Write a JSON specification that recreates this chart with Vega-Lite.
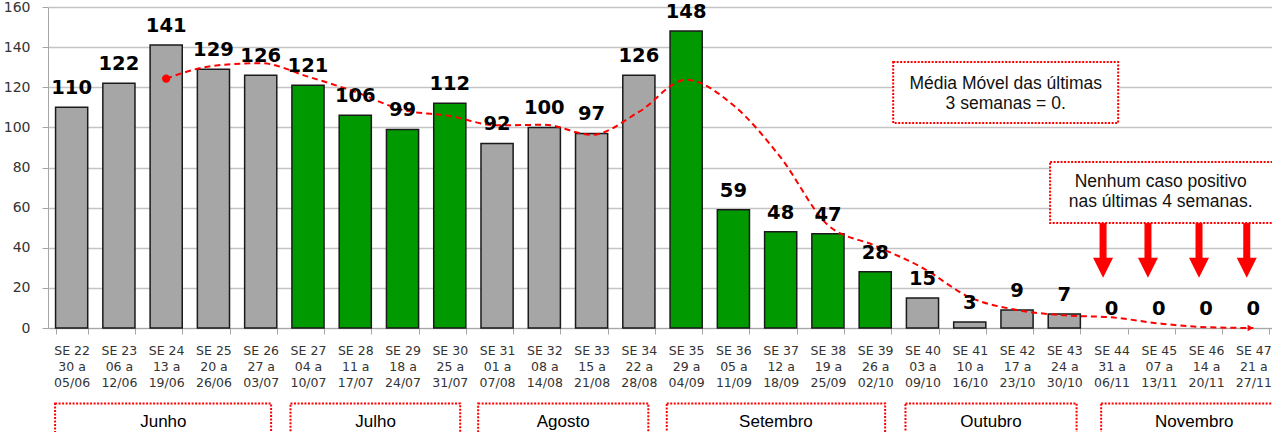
{
  "$schema": "https://vega.github.io/schema/vega-lite/v6.json",
  "width": 1224,
  "height": 321,
  "autosize": {"type": "none"},
  "padding": {"left": 48, "top": 7, "right": 0, "bottom": 104},
  "background": "white",
  "config": {"view": {"stroke": null}, "font": "DejaVu Sans"},
  "datasets": {
    "weeks": [
      {"se": "SE 22|30 a|05/06", "v": 110, "g": "cinza", "ma": null},
      {"se": "SE 23|06 a|12/06", "v": 122, "g": "cinza", "ma": null},
      {"se": "SE 24|13 a|19/06", "v": 141, "g": "cinza", "ma": 124.3},
      {"se": "SE 25|20 a|26/06", "v": 129, "g": "cinza", "ma": 130.7},
      {"se": "SE 26|27 a|03/07", "v": 126, "g": "cinza", "ma": 132},
      {"se": "SE 27|04 a|10/07", "v": 121, "g": "verde", "ma": 125.3},
      {"se": "SE 28|11 a|17/07", "v": 106, "g": "verde", "ma": 117.7},
      {"se": "SE 29|18 a|24/07", "v": 99, "g": "verde", "ma": 108.7},
      {"se": "SE 30|25 a|31/07", "v": 112, "g": "verde", "ma": 105.7},
      {"se": "SE 31|01 a|07/08", "v": 92, "g": "cinza", "ma": 101},
      {"se": "SE 32|08 a|14/08", "v": 100, "g": "cinza", "ma": 101.3},
      {"se": "SE 33|15 a|21/08", "v": 97, "g": "cinza", "ma": 96.3},
      {"se": "SE 34|22 a|28/08", "v": 126, "g": "cinza", "ma": 107.7},
      {"se": "SE 35|29 a|04/09", "v": 148, "g": "verde", "ma": 123.7},
      {"se": "SE 36|05 a|11/09", "v": 59, "g": "verde", "ma": 111},
      {"se": "SE 37|12 a|18/09", "v": 48, "g": "verde", "ma": 85},
      {"se": "SE 38|19 a|25/09", "v": 47, "g": "verde", "ma": 51.3},
      {"se": "SE 39|26 a|02/10", "v": 28, "g": "verde", "ma": 41},
      {"se": "SE 40|03 a|09/10", "v": 15, "g": "cinza", "ma": 30},
      {"se": "SE 41|10 a|16/10", "v": 3, "g": "cinza", "ma": 15.3},
      {"se": "SE 42|17 a|23/10", "v": 9, "g": "cinza", "ma": 9},
      {"se": "SE 43|24 a|30/10", "v": 7, "g": "cinza", "ma": 6.3},
      {"se": "SE 44|31 a|06/11", "v": 0, "g": "cinza", "ma": 5.3},
      {"se": "SE 45|07 a|13/11", "v": 0, "g": "cinza", "ma": 2.3},
      {"se": "SE 46|14 a|20/11", "v": 0, "g": "cinza", "ma": 0.4},
      {"se": "SE 47|21 a|27/11", "v": 0, "g": "cinza", "ma": 0}
    ],
    "months": [
      {"m": "Junho", "x1": 0.15, "x2": 4.72, "xm": 2.44},
      {"m": "Julho", "x1": 5.13, "x2": 8.72, "xm": 6.93},
      {"m": "Agosto", "x1": 9.1, "x2": 12.7, "xm": 10.9},
      {"m": "Setembro", "x1": 13.09, "x2": 17.71, "xm": 15.4},
      {"m": "Outubro", "x1": 18.14, "x2": 21.76, "xm": 19.95},
      {"m": "Novembro", "x1": 22.28, "x2": 26.6, "xm": 24.25}
    ],
    "boxes": [
      {"x1": 17.88, "x2": 22.64, "y1": 132.6, "y2": 102.2},
      {"x1": 21.2, "x2": 26.6, "y1": 82.75, "y2": 52.3}
    ],
    "notes": [
      {"x": 20.26, "y": 119.1, "t": "Média Móvel das últimas"},
      {"x": 20.26, "y": 109.2, "t": "3 semanas = 0."},
      {"x": 23.54, "y": 70.3, "t": "Nenhum caso positivo"},
      {"x": 23.54, "y": 60.3, "t": "nas últimas 4 semanas."}
    ],
    "arrows": [
      {"x": 22.32}, {"x": 23.27}, {"x": 24.35}, {"x": 25.36}
    ]
  },
  "resolve": {"scale": {"x": "independent"}},
  "layer": [
    {
      "data": {"name": "weeks"},
      "encoding": {
        "x": {
          "field": "se", "type": "nominal", "sort": null,
          "scale": {"type": "band", "range": [0, 1229], "paddingInner": 0.32, "paddingOuter": 0.16},
          "axis": {
            "title": null, "labelAngle": 0, "labelExpr": "split(datum.label, '|')",
            "labelFontSize": 12.5, "labelColor": "#333333", "labelLineHeight": 16,
            "labelPadding": 10, "tickBand": "extent", "tickSize": 6, "tickColor": "#A6A6A6",
            "domainColor": "#A6A6A6", "labelFont": "DejaVu Sans", "grid": false
          }
        }
      },
      "layer": [
        {
          "transform": [{"filter": "datum.v > 0"}],
          "mark": {"type": "bar", "stroke": "#1a1a1a", "strokeWidth": 1.5},
          "encoding": {
            "y": {
              "field": "v", "type": "quantitative",
              "scale": {"domain": [0, 160], "nice": false},
              "axis": {
                "title": null, "values": [0, 20, 40, 60, 80, 100, 120, 140, 160],
                "labelFontSize": 14, "labelColor": "#333333", "labelPadding": 12,
                "tickSize": 6, "tickColor": "#A6A6A6", "domainColor": "#A6A6A6",
                "gridColor": "#C4C4C4", "gridWidth": 1.3, "labelFont": "DejaVu Sans"
              }
            },
            "color": {
              "field": "g", "type": "nominal", "legend": null,
              "scale": {"domain": ["cinza", "verde"], "range": ["#A6A6A6", "#009900"]}
            }
          }
        },
        {
          "transform": [{"filter": "datum.ma != null"}],
          "mark": {"type": "line", "color": "#FF0000", "strokeWidth": 2, "strokeDash": [6, 4], "interpolate": "monotone"},
          "encoding": {
            "y": {"field": "ma", "type": "quantitative", "scale": {"domain": [0, 160], "nice": false}}
          }
        },
        {
          "transform": [{"filter": "datum.se == 'SE 24|13 a|19/06'"}],
          "mark": {"type": "point", "filled": true, "color": "#FF0000", "size": 70, "opacity": 1},
          "encoding": {
            "y": {"field": "ma", "type": "quantitative", "scale": {"domain": [0, 160], "nice": false}}
          }
        },
        {
          "transform": [{"filter": "datum.se == 'SE 47|21 a|27/11'"}],
          "mark": {"type": "point", "filled": true, "color": "#FF0000", "shape": "triangle-right", "size": 40, "opacity": 1, "xOffset": -3},
          "encoding": {
            "y": {"field": "ma", "type": "quantitative", "scale": {"domain": [0, 160], "nice": false}}
          }
        },
        {
          "mark": {"type": "text", "dy": -13, "baseline": "alphabetic", "fontWeight": "bold", "fontSize": 19.5, "font": "DejaVu Sans", "color": "#000000"},
          "encoding": {
            "y": {"field": "v", "type": "quantitative", "scale": {"domain": [0, 160], "nice": false}},
            "text": {"field": "v", "type": "quantitative"}
          }
        }
      ]
    },
    {
      "layer": [
        {
          "data": {"name": "months"},
          "mark": {"type": "rect", "fill": "white", "stroke": "#FF0000", "strokeWidth": 2, "strokeDash": [2, 1.5]},
          "encoding": {
            "x": {"field": "x1", "type": "quantitative", "scale": {"domain": [0, 26], "range": [0, 1229]}, "axis": null},
            "x2": {"field": "x2"},
            "y": {"datum": -37.6, "type": "quantitative", "scale": {"domain": [0, 160], "nice": false}},
            "y2": {"datum": -62}
          }
        },
        {
          "data": {"name": "months"},
          "mark": {"type": "text", "font": "Liberation Sans", "fontSize": 17, "baseline": "alphabetic", "align": "center", "color": "#000000"},
          "encoding": {
            "x": {"field": "xm", "type": "quantitative", "scale": {"domain": [0, 26], "range": [0, 1229]}, "axis": null},
            "y": {"datum": -49.4, "type": "quantitative", "scale": {"domain": [0, 160], "nice": false}},
            "text": {"field": "m"}
          }
        },
        {
          "data": {"name": "boxes"},
          "mark": {"type": "rect", "fill": "white", "stroke": "#FF0000", "strokeWidth": 2, "strokeDash": [2, 1.5]},
          "encoding": {
            "x": {"field": "x1", "type": "quantitative", "scale": {"domain": [0, 26], "range": [0, 1229]}, "axis": null},
            "x2": {"field": "x2"},
            "y": {"field": "y1", "type": "quantitative", "scale": {"domain": [0, 160], "nice": false}},
            "y2": {"field": "y2"}
          }
        },
        {
          "data": {"name": "notes"},
          "mark": {"type": "text", "font": "Liberation Sans", "fontSize": 17.5, "baseline": "alphabetic", "align": "center", "color": "#111111"},
          "encoding": {
            "x": {"field": "x", "type": "quantitative", "scale": {"domain": [0, 26], "range": [0, 1229]}, "axis": null},
            "y": {"field": "y", "type": "quantitative", "scale": {"domain": [0, 160], "nice": false}},
            "text": {"field": "t"}
          }
        },
        {
          "data": {"name": "arrows"},
          "mark": {"type": "rule", "color": "#FF0000", "strokeWidth": 7},
          "encoding": {
            "x": {"field": "x", "type": "quantitative", "scale": {"domain": [0, 26], "range": [0, 1229]}, "axis": null},
            "y": {"datum": 52.3, "type": "quantitative", "scale": {"domain": [0, 160], "nice": false}},
            "y2": {"datum": 34.5}
          }
        },
        {
          "data": {"name": "arrows"},
          "mark": {"type": "point", "filled": true, "color": "#FF0000", "opacity": 1, "shape": "M-1,-1L1,-1L0,1Z", "size": 400},
          "encoding": {
            "x": {"field": "x", "type": "quantitative", "scale": {"domain": [0, 26], "range": [0, 1229]}, "axis": null},
            "y": {"datum": 30, "type": "quantitative", "scale": {"domain": [0, 160], "nice": false}}
          }
        }
      ]
    }
  ]
}
